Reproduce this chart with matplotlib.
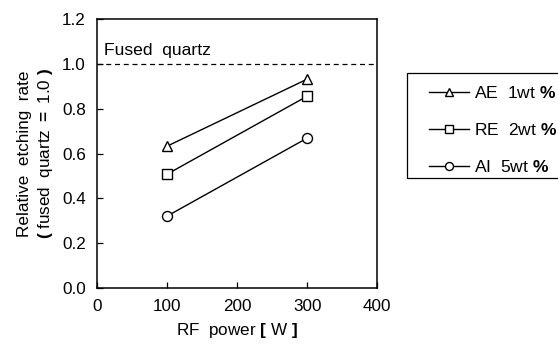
import matplotlib
matplotlib.use("Agg")
import matplotlib.pyplot as plt
from matplotlib.patches import Rectangle

plt.rcParams['font.family'] = ['Liberation Sans', 'DejaVu Sans']
plt.rcParams['mathtext.fontset'] = 'custom'
plt.rcParams['mathtext.rm'] = 'Liberation Sans'
plt.rcParams['mathtext.bf'] = 'Liberation Sans:bold'

rf_power = [100, 300]
ae_1wt = [0.633, 0.932]
re_2wt = [0.508, 0.856]
ai_5wt = [0.321, 0.669]
series_labels = [r"AE  1wt $\mathbf{\%}$", r"RE  2wt $\mathbf{\%}$", r"AI  5wt $\mathbf{\%}$"]
reference_level = 1.0

FS = 12.3

fig = plt.figure(figsize=(5.58, 3.47), dpi=100)
ax = fig.add_axes([0.174, 0.170, 0.502, 0.775])

kw = dict(color='black', lw=1.0, markersize=7.2, markerfacecolor='white',
          markeredgecolor='black', markeredgewidth=1.0)
ax.plot(rf_power, ae_1wt, marker='^', label=series_labels[0], **kw)
ax.plot(rf_power, re_2wt, marker='s', label=series_labels[1], **kw)
ax.plot(rf_power, ai_5wt, marker='o', label=series_labels[2], **kw)

ax.axhline(reference_level, color='black', lw=0.9, ls=(0, (4, 3)))
ax.text(10, 1.025, "Fused  quartz", fontsize=12.6, va='bottom', ha='left')

ax.set_xlim(0, 400)
ax.set_ylim(0, 1.2)
ax.set_xticks([0, 100, 200, 300, 400])
ax.set_yticks([0.0, 0.2, 0.4, 0.6, 0.8, 1.0, 1.2])
ax.set_yticklabels([f"{v:.1f}" for v in ax.get_yticks()])
ax.tick_params(direction='in', labelsize=FS, length=4, width=0.9, pad=8)
for s in ax.spines.values():
    s.set_linewidth(1.1)

ax.set_xlabel(r"RF  power $\mathbf{[}$ W $\mathbf{]}$", fontsize=FS, labelpad=5)
ax.set_ylabel("Relative  etching  rate\n" + r"$\mathbf{(}$ fused  quartz $\mathbf{=}$ 1.0 $\mathbf{)}$",
              fontsize=FS, labelpad=5, linespacing=1.3)

# legend box runs off the right edge of the figure
fig.patches.append(Rectangle((0.729, 0.487), 0.35, 0.303, transform=fig.transFigure,
                             fill=False, edgecolor='black', lw=0.9))
fig.legend(loc='upper left', bbox_to_anchor=(0.769, 0.756), fontsize=12.6,
           frameon=False, handlelength=2.3, handletextpad=0.25,
           labelspacing=1.2, borderpad=0, borderaxespad=0, markerscale=0.8)

fig.savefig("out.png", dpi=100)
